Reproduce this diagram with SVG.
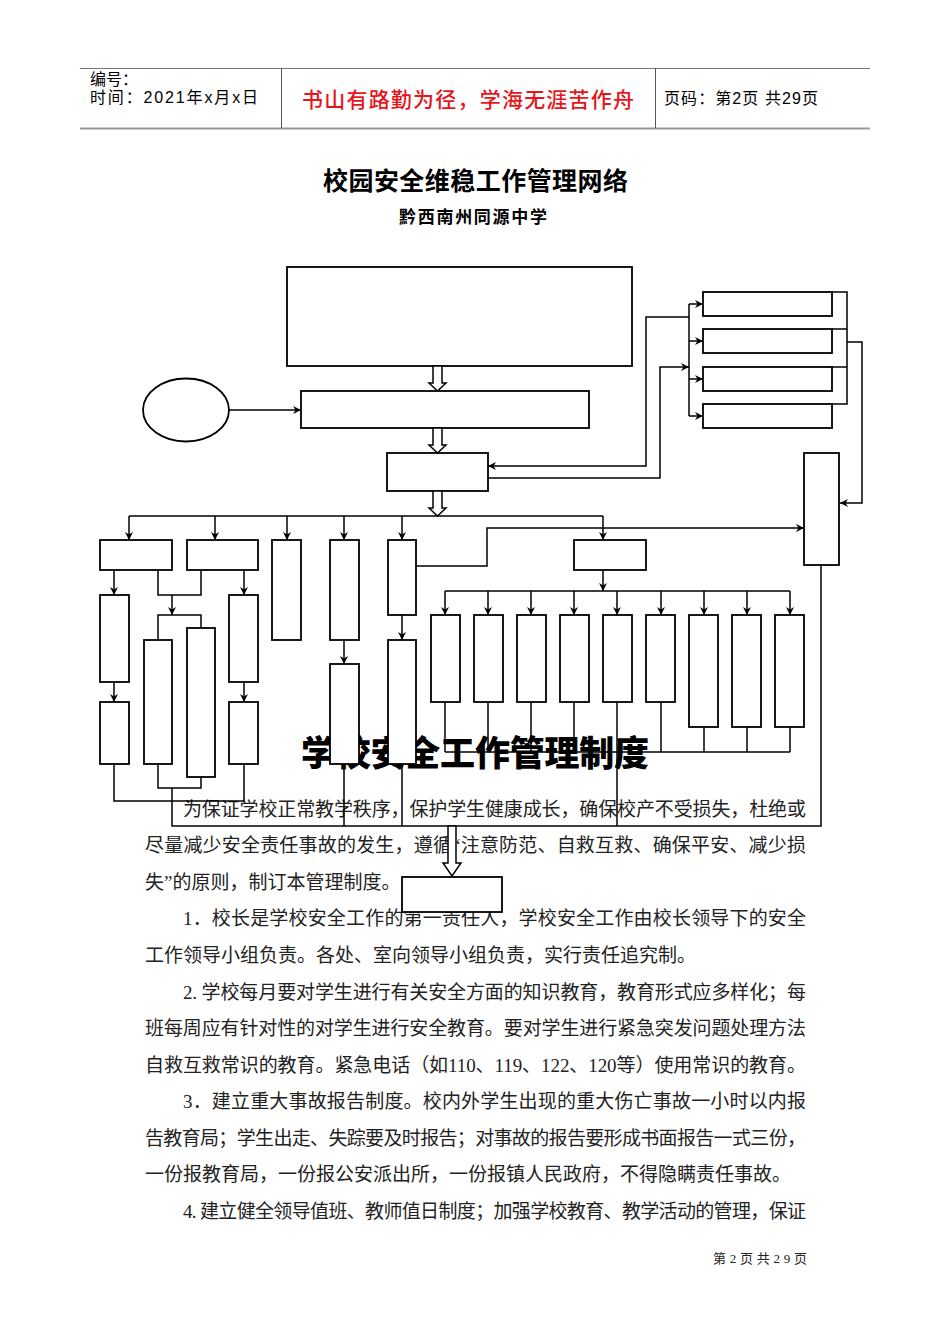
<svg xmlns="http://www.w3.org/2000/svg" width="950" height="1344" viewBox="0 0 950 1344">
<style>
.bx{fill:#fff;stroke:#000;stroke-width:1.8}
.ln{fill:none;stroke:#000;stroke-width:1.5}
.ar{fill:none;stroke:#000;stroke-width:1.5;marker-end:url(#ah)}
.blk{fill:#fff;stroke:#000;stroke-width:1.5;stroke-linejoin:miter}
.hd{font-family:"Liberation Sans","Noto Sans CJK SC",sans-serif;font-size:16px;fill:#000}
.bd{font-family:"Liberation Serif","Noto Sans CJK SC",serif;font-size:19px;fill:#222}
</style>
<defs>
<marker id="ah" viewBox="0 -5 10 10" refX="9" refY="0" markerWidth="10" markerHeight="10" markerUnits="userSpaceOnUse" orient="auto">
<path d="M1,-4 L9,0 L1,4 L3.5,0 Z" fill="#000"/>
</marker>
</defs>
<rect width="950" height="1344" fill="#fff"/>
<g id="header">
<line x1="80" y1="68.5" x2="870" y2="68.5" stroke="#777" stroke-width="1"/>
<line x1="80" y1="128.5" x2="870" y2="128.5" stroke="#999" stroke-width="2"/>
<line x1="281.5" y1="68" x2="281.5" y2="128" stroke="#555" stroke-width="1"/>
<line x1="655.5" y1="68" x2="655.5" y2="128" stroke="#555" stroke-width="1"/>
<text class="hd" x="90" y="85">编号：</text>
<text class="hd" x="90" y="103" textLength="168" lengthAdjust="spacing">时间：2021年x月x日</text>
<text x="302" y="107" font-family="Noto Sans CJK SC, sans-serif" font-size="21" font-weight="500" fill="#e8141b" textLength="332" lengthAdjust="spacing">书山有路勤为径，学海无涯苦作舟</text>
<text class="hd" x="664" y="104" textLength="154" lengthAdjust="spacing">页码：第2页 共29页</text>
</g>
<g id="titles">
<text x="323" y="190" font-family="Noto Sans CJK SC, sans-serif" font-size="25" font-weight="bold" fill="#000" textLength="305" lengthAdjust="spacing">校园安全维稳工作管理网络</text>
<text x="399" y="223" font-family="Noto Sans CJK SC, sans-serif" font-size="17" font-weight="bold" fill="#000" textLength="148" lengthAdjust="spacing">黔西南州同源中学</text>
</g>
<g id="body-text">
<text x="301" y="766" font-family="Noto Sans CJK SC, sans-serif" font-size="35" font-weight="900" fill="#000" textLength="348" lengthAdjust="spacing">学校安全工作管理制度</text>
<text class="bd" x="183" y="816" textLength="623" lengthAdjust="spacing">为保证学校正常教学秩序，保护学生健康成长，确保校产不受损失，杜绝或</text>
<text class="bd" x="145" y="852" textLength="661" lengthAdjust="spacing">尽量减少安全责任事故的发生，遵循“注意防范、自救互救、确保平安、减少损</text>
<text class="bd" x="145" y="889">失”的原则，制订本管理制度。</text>
<text class="bd" x="183" y="925" textLength="623" lengthAdjust="spacing">1．校长是学校安全工作的第一责任人，学校安全工作由校长领导下的安全</text>
<text class="bd" x="145" y="962">工作领导小组负责。各处、室向领导小组负责，实行责任追究制。</text>
<text class="bd" x="183" y="999" textLength="623" lengthAdjust="spacing">2. 学校每月要对学生进行有关安全方面的知识教育，教育形式应多样化；每</text>
<text class="bd" x="145" y="1035" textLength="661" lengthAdjust="spacing">班每周应有针对性的对学生进行安全教育。要对学生进行紧急突发问题处理方法</text>
<text class="bd" x="145" y="1072" textLength="661" lengthAdjust="spacing">自救互救常识的教育。紧急电话（如110、119、122、120等）使用常识的教育。</text>
<text class="bd" x="183" y="1108" textLength="623" lengthAdjust="spacing">3．建立重大事故报告制度。校内外学生出现的重大伤亡事故一小时以内报</text>
<text class="bd" x="145" y="1145" textLength="661" lengthAdjust="spacing">告教育局；学生出走、失踪要及时报告；对事故的报告要形成书面报告一式三份，</text>
<text class="bd" x="145" y="1181">一份报教育局，一份报公安派出所，一份报镇人民政府，不得隐瞒责任事故。</text>
<text class="bd" x="183" y="1218" textLength="623" lengthAdjust="spacing">4. 建立健全领导值班、教师值日制度；加强学校教育、教学活动的管理，保证</text>
<text x="713" y="1263" font-family="Liberation Serif, Noto Sans CJK SC, serif" font-size="13" fill="#222" textLength="94" lengthAdjust="spacing">第2页共29页</text>
</g>
<g id="connectors">
<path class="ar" d="M229,410 H301"/>
<path class="ln" d="M129,516 H603"/>
<path class="ar" d="M129,516 V540"/>
<path class="ar" d="M215,516 V540"/>
<path class="ar" d="M287,516 V540"/>
<path class="ar" d="M344,516 V540"/>
<path class="ar" d="M402,516 V540"/>
<path class="ar" d="M603,516 V540"/>
<path class="ar" d="M114,570 V595"/>
<path class="ar" d="M114,682 V702"/>
<path class="ar" d="M244,570 V595"/>
<path class="ar" d="M244,682 V702"/>
<path class="ln" d="M158,570 V595 H201 V570"/>
<path class="ar" d="M172,595 V615"/>
<path class="ln" d="M158,640 V615 H201 V628"/>
<path class="ln" d="M114,764 V801 H244 V764"/>
<path class="ln" d="M158,764 V788 H201 V777"/>
<path class="ln" d="M172,788 V826 H821 V565"/>
<path class="ar" d="M344,640 V664"/>
<path class="ar" d="M402,615 V640"/>
<path class="ln" d="M344,764 V826"/>
<path class="ln" d="M402,764 V826"/>
<path class="ar" d="M416,566 H487 V528 H804"/>
<path class="ar" d="M603,570 V591"/>
<path class="ln" d="M445,591 H790"/>
<path class="ar" d="M445,591 V615"/>
<path class="ar" d="M488,591 V615"/>
<path class="ar" d="M531,591 V615"/>
<path class="ar" d="M574,591 V615"/>
<path class="ar" d="M617,591 V615"/>
<path class="ar" d="M661,591 V615"/>
<path class="ar" d="M704,591 V615"/>
<path class="ar" d="M747,591 V615"/>
<path class="ar" d="M790,591 V615"/>
<path class="ln" d="M445,702 V752 M488,702 V752 M531,702 V752 M574,702 V752 M661,702 V752 M704,727 V752 M747,727 V752 M790,727 V752"/>
<path class="ln" d="M445,752 H790"/>
<path class="ln" d="M617,702 V826"/>
<path class="ar" d="M689,317 H646 V466 H488"/>
<path class="ar" d="M488,478 H660 V367 H689"/>
<path class="ln" d="M689,304 V416"/>
<path class="ar" d="M689,304 H703"/>
<path class="ar" d="M689,341 H703"/>
<path class="ar" d="M689,379 H703"/>
<path class="ar" d="M689,416 H703"/>
<path class="ln" d="M832,292 H847 V404 H832 M832,329 H847 M832,367 H847"/>
<path class="ar" d="M847,342 H862 V503 H840"/>
</g>
<g id="n-top"><rect class="bx" x="287" y="267" width="345" height="99"/></g>
<g id="n-ellipse"><ellipse class="bx" cx="186" cy="410" rx="43" ry="31.5"/></g>
<g id="n-rect2"><rect class="bx" x="301" y="391" width="288" height="37"/></g>
<g id="n-rect3"><rect class="bx" x="387" y="453" width="101" height="38"/></g>
<g id="block-arrows">
<polygon class="blk" points="433,366 442,366 442,383 446,383 437.5,391 429,383 433,383"/>
<polygon class="blk" points="433,428 442,428 442,445 446,445 437.5,453 429,445 433,445"/>
<polygon class="blk" points="433,491 442,491 442,508 446,508 437.5,516 429,508 433,508"/>
<polygon class="blk" points="448,826 456,826 456,863 461,863 452,876 443,863 448,863"/>
</g>
<g id="n-a"><rect class="bx" x="100" y="540" width="72" height="30"/></g>
<g id="n-b"><rect class="bx" x="187" y="540" width="71" height="30"/></g>
<g id="n-c"><rect class="bx" x="272" y="540" width="29" height="100"/></g>
<g id="n-d"><rect class="bx" x="330" y="540" width="29" height="100"/></g>
<g id="n-e"><rect class="bx" x="388" y="540" width="28" height="75"/></g>
<g id="n-a1"><rect class="bx" x="100" y="595" width="29" height="87"/></g>
<g id="n-a2"><rect class="bx" x="100" y="702" width="29" height="62"/></g>
<g id="n-b1"><rect class="bx" x="229" y="595" width="29" height="87"/></g>
<g id="n-b2"><rect class="bx" x="229" y="702" width="29" height="62"/></g>
<g id="n-f"><rect class="bx" x="144" y="640" width="28" height="124"/></g>
<g id="n-g"><rect class="bx" x="187" y="628" width="28" height="149"/></g>
<g id="n-d1"><rect class="bx" x="330" y="664" width="29" height="100"/></g>
<g id="n-e1"><rect class="bx" x="388" y="640" width="28" height="124"/></g>
<g id="n-h"><rect class="bx" x="574" y="540" width="72" height="30"/></g>
<g id="n-r1"><rect class="bx" x="431" y="615" width="29" height="87"/></g>
<g id="n-r2"><rect class="bx" x="474" y="615" width="29" height="87"/></g>
<g id="n-r3"><rect class="bx" x="517" y="615" width="29" height="87"/></g>
<g id="n-r4"><rect class="bx" x="560" y="615" width="29" height="87"/></g>
<g id="n-r5"><rect class="bx" x="603" y="615" width="29" height="87"/></g>
<g id="n-r6"><rect class="bx" x="646" y="615" width="29" height="87"/></g>
<g id="n-r7"><rect class="bx" x="689" y="615" width="29" height="112"/></g>
<g id="n-r8"><rect class="bx" x="732" y="615" width="29" height="112"/></g>
<g id="n-r9"><rect class="bx" x="775" y="615" width="29" height="112"/></g>
<g id="n-s1"><rect class="bx" x="703" y="292" width="129" height="24"/></g>
<g id="n-s2"><rect class="bx" x="703" y="329" width="129" height="24"/></g>
<g id="n-s3"><rect class="bx" x="703" y="367" width="129" height="24"/></g>
<g id="n-s4"><rect class="bx" x="703" y="404" width="129" height="24"/></g>
<g id="n-tall"><rect class="bx" x="804" y="453" width="35" height="112"/></g>
<g id="n-bottom"><rect class="bx" x="402" y="877" width="100" height="35"/></g>
</svg>
